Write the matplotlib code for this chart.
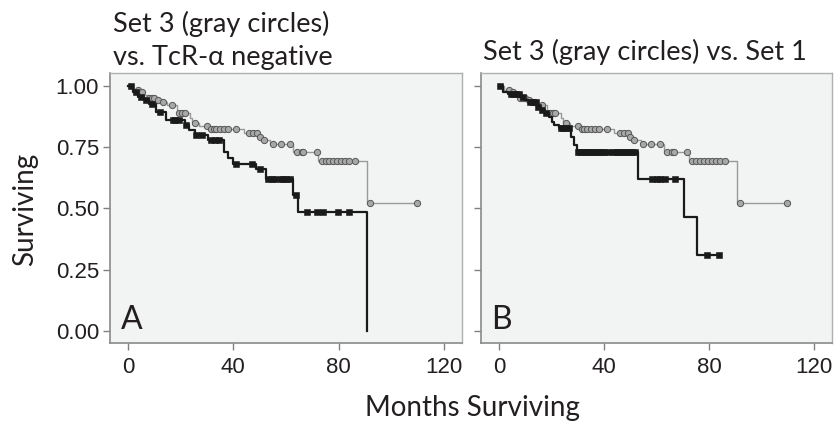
import numpy as np
import matplotlib
matplotlib.use("Agg")
import matplotlib.pyplot as plt

# ---------------- data ----------------
# Set 3 (gray circles) - Kaplan-Meier steps (event times, survival after event)
set3_times = [0, 2, 4.5, 6, 7.5, 11, 13, 15, 18.5, 23.5, 24.5, 27, 31, 44, 49.5, 51, 54, 62.8, 72.3, 90.8]
set3_surv = [1.0, 0.984, 0.977, 0.962, 0.950, 0.943, 0.936, 0.922, 0.888, 0.870, 0.850, 0.838, 0.823, 0.810,
             0.793, 0.780, 0.763, 0.732, 0.695, 0.522]
set3_end = 109.6
set3_censor = [3.9, 5.2, 8, 9, 10, 11.5, 13.4, 16.6, 19.5, 20.5, 21.5, 25.4, 30, 31.5, 32.5, 33.5, 35, 36.5,
               38, 41, 46, 47.5, 49, 50, 51.5, 55, 58, 61.5, 64, 66, 66.6, 71.7, 73.5, 75, 76.5, 78, 79.5,
               81, 82.5, 84, 86, 91.7, 109.6]

# TcR-alpha negative (black squares, panel A)
tcr_times = [0, 2, 4, 6, 8, 10.5, 14.5, 21.5, 23, 25.5, 30.5, 36.5, 38, 40, 48.5, 52.4, 62.8, 64.7, 90.6]
tcr_surv = [1.0, 0.977, 0.956, 0.943, 0.927, 0.894, 0.861, 0.840, 0.820, 0.800, 0.780, 0.730, 0.706, 0.680,
            0.660, 0.620, 0.555, 0.486, 0.0]
tcr_end = 90.6
tcr_censor = [1, 3, 5, 7, 9, 12, 17, 18, 19.5, 22, 26, 28, 31.5, 33, 34.5, 41, 47, 50, 53, 54.5, 56, 58, 59,
              60, 61.5, 63.7, 67.9, 71.7, 74.2, 79.9, 84]

# Set 1 (black squares, panel B)
set1_times = [0, 1.5, 3.5, 8, 10, 11.5, 14.5, 16, 17.5, 19, 20.3, 21, 23, 27.5, 28.5, 29.8, 53, 70.4, 75.5]
set1_surv = [1.0, 0.977, 0.967, 0.954, 0.943, 0.936, 0.915, 0.902, 0.889, 0.875, 0.855, 0.841, 0.827, 0.793,
             0.759, 0.732, 0.619, 0.467, 0.310]
set1_end = 83.9
set1_censor = [0.5, 4.5, 5.5, 6.5, 7.6, 9, 12, 13, 14, 15, 16.5, 18, 23.5, 24.5, 25.5, 26.6, 30, 31, 32, 33,
               34, 35, 36, 37, 38, 39, 40, 41.4, 43.3, 44.5, 45.5, 46.5, 47.5, 48.5, 49.5, 50.5, 52, 58.3,
               60, 61.5, 63.4, 67, 79.3, 83.9]

x_ticks = [0, 40, 80, 120]
y_ticks = [0.00, 0.25, 0.50, 0.75, 1.00]
y_ticklabels = ["0.00", "0.25", "0.50", "0.75", "1.00"]
title_a = "Set 3 (gray circles)\nvs. TcR-\u03b1 negative"
title_b = "Set 3 (gray circles) vs. Set 1"
x_label = "Months Surviving"
y_label = "Surviving"

# ---------------- drawing ----------------
TXT = "#231f20"
FONT_T = ["Lato", "DejaVu Sans"]
FONT_N = ["Liberation Sans", "DejaVu Sans"]


def km(ax, times, surv, end, censor, kind):
    t = list(times) + [end]
    s = list(surv) + [surv[-1]]
    ta = np.array(times)
    cs = np.array(censor)
    idx = np.searchsorted(ta, cs, side="right") - 1
    cv = np.array(surv)[idx]
    if kind == "gray":
        ax.step(t, s, where="post", color="#9a9a9a", lw=1.0, zorder=2)
        ax.plot(cs, cv, ls="none", marker="o", ms=4.5, mfc="#a8a8a8", mec="#555555", mew=0.7, zorder=3)
    else:
        ax.step(t, s, where="post", color="#1a1a1a", lw=1.6, zorder=4)
        ax.plot(cs, cv, ls="none", marker="s", ms=4.6, mfc="#1a1a1a", mec="#1a1a1a", mew=0.4, zorder=5)


fig = plt.figure(figsize=(8.35, 4.25), dpi=100)
W, H = 835, 425
ax_a = fig.add_axes([110 / W, 1 - 343 / H, 352 / W, 270 / H])
ax_b = fig.add_axes([481 / W, 1 - 343 / H, 351 / W, 270 / H])

for ax in (ax_a, ax_b):
    ax.set_facecolor("#f2f3f3")
    ax.set_xlim(-6.8, 126.8)
    ax.set_ylim(-0.049, 1.053)
    ax.set_xticks(x_ticks)
    ax.set_xticklabels([str(v) for v in x_ticks], fontsize=16, color=TXT, family=FONT_N)
    ax.set_yticks(y_ticks)
    ax.tick_params(direction="out", length=5, width=1, color="#808080", pad=3)
    ax.tick_params(axis="x", pad=5)
    for side in ("left", "bottom"):
        ax.spines[side].set_color("#8a8a8a")
        ax.spines[side].set_linewidth(1.2)
    for side in ("top", "right"):
        ax.spines[side].set_color("#b0b0b0")
        ax.spines[side].set_linewidth(1.0)

ax_a.set_yticklabels(y_ticklabels, fontsize=16, color=TXT, family=FONT_N)
ax_b.set_yticklabels([])

km(ax_a, set3_times, set3_surv, set3_end, set3_censor, "gray")
km(ax_a, tcr_times, tcr_surv, tcr_end, tcr_censor, "black")
km(ax_b, set3_times, set3_surv, set3_end, set3_censor, "gray")
km(ax_b, set1_times, set1_surv, set1_end, set1_censor, "black")

ax_a.text(0.03, 0.03, "A", transform=ax_a.transAxes, fontsize=23, color=TXT, family=FONT_T,
          ha="left", va="bottom")
ax_b.text(0.03, 0.03, "B", transform=ax_b.transAxes, fontsize=23, color=TXT, family=FONT_T,
          ha="left", va="bottom")

fig.text(113 / W, 1 - 24 / H, "Set 3 (gray circles)", fontsize=19.5, color=TXT, family=FONT_T,
         ha="left", va="center")
fig.text(113 / W, 1 - 58 / H, "vs. TcR-\u03b1 negative", fontsize=19.5, color=TXT, family=FONT_T,
         ha="left", va="center")
fig.text(483 / W, 1 - 52 / H, title_b, fontsize=19.5, color=TXT, family=FONT_T, ha="left", va="center")
fig.text(472 / W, 1 - 408 / H, x_label, fontsize=20, color=TXT, family=FONT_T, ha="center", va="center")
fig.text(25 / W, 1 - 209 / H, y_label, fontsize=20, color=TXT, family=FONT_T, ha="center", va="center",
         rotation=90)

fig.savefig("out.png", dpi=100, facecolor="white")
